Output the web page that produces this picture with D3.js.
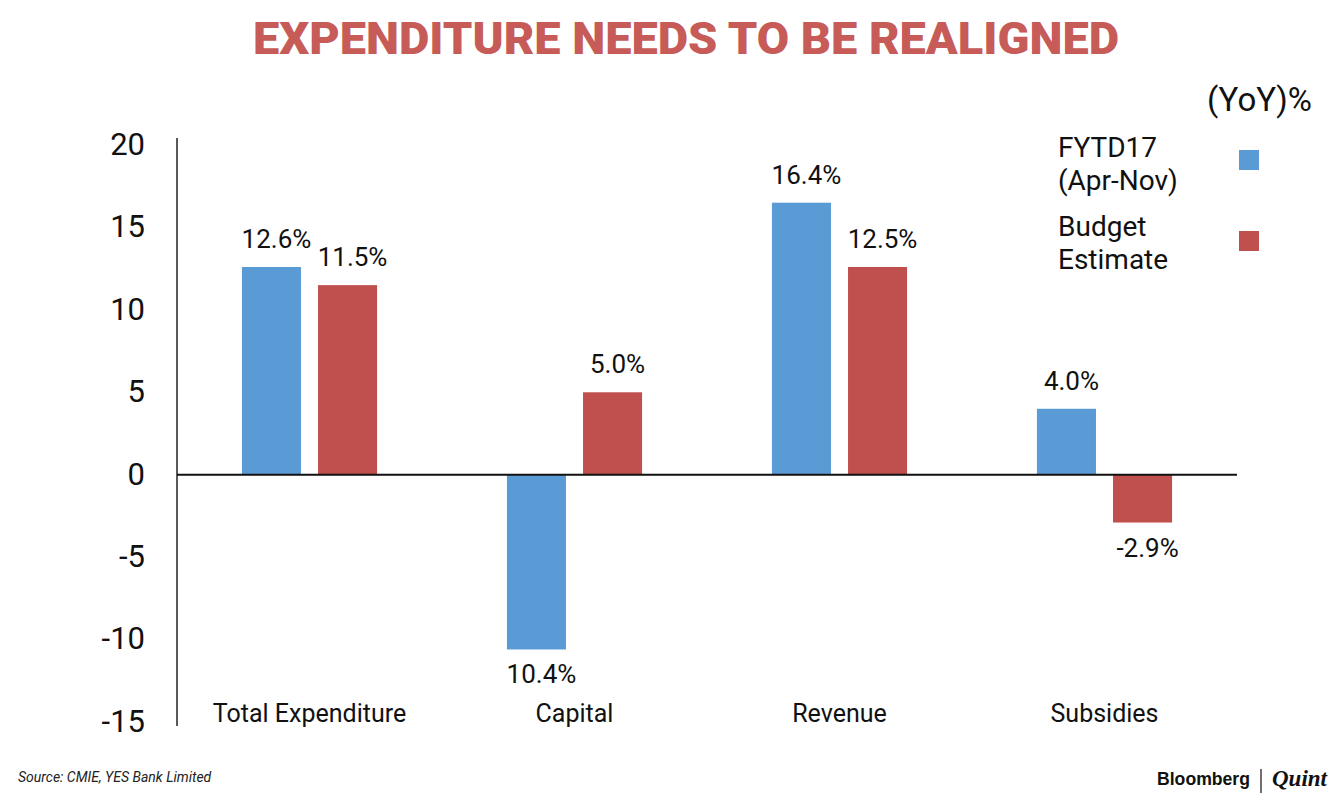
<!DOCTYPE html>
<html>
<head>
<meta charset="utf-8">
<script src="https://cdnjs.cloudflare.com/ajax/libs/d3/7.8.5/d3.min.js"></script>
<style>
  body { margin: 0; background: #fff; }
  svg { display: block; font-family: Roboto, "Noto Sans", sans-serif; }
</style>
</head>
<body>
<svg width="1340" height="800"></svg>
<script>
// chart data
var categories = ["Total Expenditure", "Capital", "Revenue", "Subsidies"];
var seriesNames = ["FYTD17 (Apr-Nov)", "Budget Estimate"];
var fytdValues = [12.6, -10.6, 16.5, 4.0];
var budgetValues = [11.5, 5.0, 12.6, -2.9];
var fytdLabels = ["12.6%", "10.4%", "16.4%", "4.0%"];
var budgetLabels = ["11.5%", "5.0%", "12.5%", "-2.9%"];
var yTicks = [20, 15, 10, 5, 0, -5, -10, -15];

var colors = ["#5b9bd5", "#c0504d"];

var svg = d3.select("svg");

// scales
var x0 = d3.scaleBand()
    .domain(categories)
    .range([177, 1237])
    .paddingInner(0.49)
    .paddingOuter(0.245);
var x1 = d3.scaleBand()
    .domain(seriesNames)
    .range([0, x0.bandwidth()])
    .paddingInner(0.224);
var y = d3.scaleLinear()
    .domain([-15, 20])
    .range([722, 145]);

// title
svg.append("text")
    .attr("x", 686).attr("y", 54)
    .attr("text-anchor", "middle")
    .attr("font-size", 45).attr("font-weight", 900)
    .attr("fill", "#c65b57")
    .attr("textLength", 866).attr("lengthAdjust", "spacingAndGlyphs")
    .text("EXPENDITURE NEEDS TO BE REALIGNED");

// y axis, drawn with d3 then restyled
var yAxis = svg.append("g")
    .attr("transform", "translate(177,0)")
    .call(d3.axisLeft(y).tickValues(yTicks).tickSize(0).tickPadding(32)
        .tickFormat(function (d) { return String(d); }));
yAxis.select(".domain").attr("stroke", "#222").attr("stroke-width", 1.5)
    .attr("d", "M0," + (y(20) - 7) + "V" + (y(-15) + 4));
yAxis.selectAll("text")
    .attr("font-family", "Roboto, sans-serif")
    .attr("font-size", 31).attr("fill", "#111")
    .attr("dy", "0.3em");

// bars
var rows = categories.map(function (c, i) {
    return {
        cat: c,
        vals: [
            { s: seriesNames[0], v: fytdValues[i], label: fytdLabels[i], k: 0 },
            { s: seriesNames[1], v: budgetValues[i], label: budgetLabels[i], k: 1 }
        ]
    };
});

var groups = svg.selectAll(".grp")
    .data(rows)
    .enter().append("g")
    .attr("class", "grp")
    .attr("transform", function (d) { return "translate(" + x0(d.cat) + ",0)"; });

groups.selectAll("rect")
    .data(function (d) { return d.vals; })
    .enter().append("rect")
    .attr("x", function (d) { return x1(d.s); })
    .attr("y", function (d) { return y(Math.max(0, d.v)); })
    .attr("width", x1.bandwidth())
    .attr("height", function (d) { return Math.abs(y(d.v) - y(0)); })
    .attr("fill", function (d) { return colors[d.k]; });

groups.selectAll(".val")
    .data(function (d) { return d.vals; })
    .enter().append("text")
    .attr("class", "val")
    .attr("x", function (d) { return x1(d.s) + x1.bandwidth() / 2 + 5; })
    .attr("y", function (d) { return d.v >= 0 ? y(d.v) - 19 : y(d.v) + 34; })
    .attr("text-anchor", "middle")
    .attr("font-size", 26).attr("fill", "#111")
    .text(function (d) { return d.label; });

// zero line
svg.append("line")
    .attr("x1", 177).attr("x2", 1237)
    .attr("y1", y(0)).attr("y2", y(0))
    .attr("stroke", "#111").attr("stroke-width", 2);

// category labels
svg.selectAll(".cat")
    .data(categories)
    .enter().append("text")
    .attr("class", "cat")
    .attr("x", function (d) { return x0(d) + x0.bandwidth() / 2; })
    .attr("y", 722)
    .attr("text-anchor", "middle")
    .attr("font-size", 25).attr("fill", "#111")
    .text(function (d) { return d; });

// legend
svg.append("text")
    .attr("x", 1312).attr("y", 111)
    .attr("text-anchor", "end")
    .attr("font-size", 33).attr("fill", "#111")
    .text("(YoY)%");

var legendLines = [["FYTD17", "(Apr-Nov)"], ["Budget", "Estimate"]];
var legend = svg.selectAll(".leg")
    .data(seriesNames)
    .enter().append("g")
    .attr("class", "leg")
    .attr("transform", function (d, i) { return "translate(0," + (i * 81) + ")"; });
legend.append("rect")
    .attr("x", 1239).attr("y", 150)
    .attr("width", 20).attr("height", 20)
    .attr("fill", function (d, i) { return colors[i]; });
legend.each(function (d, i) {
    var g = d3.select(this);
    legendLines[i].forEach(function (line, j) {
        g.append("text")
            .attr("x", 1058).attr("y", 157 + j * 33 - i * 2)
            .attr("font-size", 28).attr("fill", "#111")
            .text(line);
    });
});

// footer
svg.append("text")
    .attr("x", 18).attr("y", 782)
    .attr("font-size", 14).attr("font-style", "italic").attr("fill", "#222")
    .text("Source: CMIE, YES Bank Limited");

svg.append("text")
    .attr("x", 1250).attr("y", 785)
    .attr("text-anchor", "end")
    .attr("font-size", 18).attr("font-weight", 700)
    .attr("font-family", "Liberation Sans, Arial, sans-serif")
    .attr("fill", "#111")
    .attr("textLength", 93).attr("lengthAdjust", "spacingAndGlyphs")
    .text("Bloomberg");
svg.append("line")
    .attr("x1", 1261).attr("x2", 1261)
    .attr("y1", 769).attr("y2", 793)
    .attr("stroke", "#111").attr("stroke-width", 1.2);
svg.append("text")
    .attr("x", 1272).attr("y", 786)
    .attr("font-size", 24).attr("font-style", "italic").attr("font-weight", 700)
    .attr("font-family", "Liberation Serif, DejaVu Serif, serif")
    .attr("fill", "#111")
    .attr("textLength", 55).attr("lengthAdjust", "spacingAndGlyphs")
    .text("Quint");
</script>
</body>
</html>
